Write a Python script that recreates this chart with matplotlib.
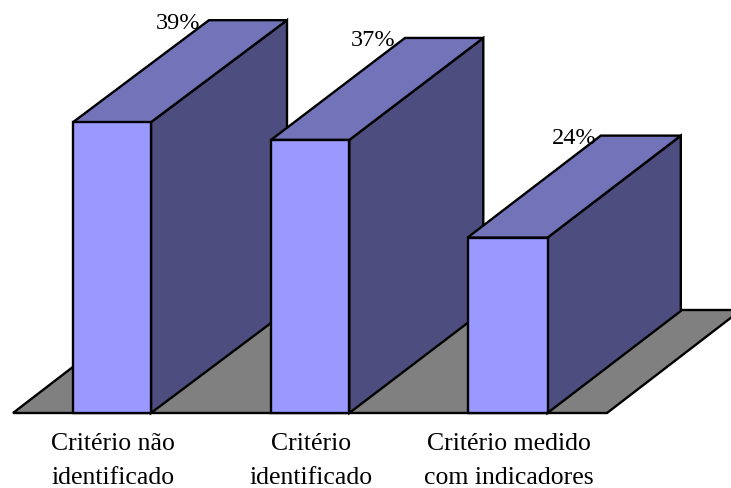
import matplotlib
matplotlib.use('Agg')
import matplotlib.pyplot as plt
from matplotlib.patches import Polygon

categories = ['Critério não\nidentificado', 'Critério\nidentificado', 'Critério medido\ncom indicadores']
values = [39.3, 36.9, 23.7]
labels = ['39%', '37%', '24%']

# layout of the boxes, in pixels
bar_left = [73, 271, 467.5]
bar_right = [151, 349.3, 547.5]
bar_depth = [136, 134, 133.3]
label_dx = [-31, -31.5, -27]
base_y = 413
px_per_pct = 7.4
depth_y = 102

plt.rcParams['font.family'] = ['Liberation Serif', 'DejaVu Serif']

fig = plt.figure(figsize=(7.31, 4.88), dpi=100)
ax = fig.add_axes([0, 0, 1, 1])
ax.set_xlim(0, 731)
ax.set_ylim(488, 0)
ax.axis('off')

def face(pts, color, z):
    ax.add_patch(Polygon(pts, closed=True, facecolor=color, edgecolor='black', linewidth=1.7,
                         joinstyle='miter', zorder=z))

# floor, runs off the right edge like in the original
floor_l, floor_r = 13, 607
face([(floor_l, base_y), (floor_r, base_y), (floor_r + 134, base_y - 103),
      (floor_l + 134, base_y - 103)], '#808080', 1)

for i, v in enumerate(values):
    x, r, d = bar_left[i], bar_right[i], bar_depth[i]
    top = base_y - v * px_per_pct
    z = 2 + i
    # side, top, front
    face([(r, base_y), (r + d, base_y - depth_y), (r + d, top - depth_y), (r, top)], '#4d4d7f', z)
    face([(x, top), (r, top), (r + d, top - depth_y), (x + d, top - depth_y)], '#7373ba', z)
    face([(x, base_y), (r, base_y), (r, top), (x, top)], '#9999ff', z)
    ax.text(x + d + label_dx[i], top - depth_y + 3, labels[i], fontsize=17.5, ha='center', va='center',
            color='black', zorder=10)
    ax.text((x + r) / 2 + 1, 461, categories[i], fontsize=18.5, ha='center', va='center',
            color='black', linespacing=1.75, zorder=10)

fig.savefig('out.png', dpi=100)
